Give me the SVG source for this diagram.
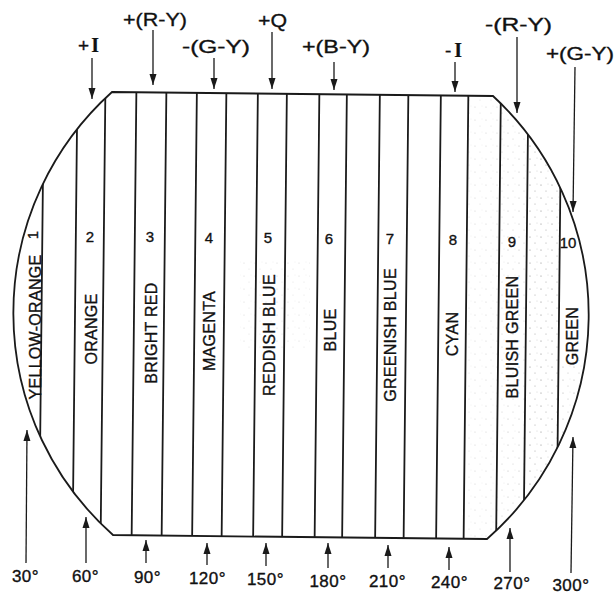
<svg xmlns="http://www.w3.org/2000/svg" width="615" height="594" viewBox="0 0 615 594">
<style>
.lbl{font-family:"Liberation Sans",Arial,sans-serif;fill:#111;stroke:#111;stroke-width:0.35;}
.top{font-size:19px;text-anchor:middle;}
.deg{font-size:17px;text-anchor:middle;letter-spacing:0.5px;}
.bar{font-size:16px;text-anchor:middle;letter-spacing:0.3px;}
.num{font-size:15px;text-anchor:middle;}
.ser{font-family:"Liberation Serif","Times New Roman",serif;font-size:20px;font-weight:bold;stroke-width:0.2;}
.bline{stroke:#1a1a1a;stroke-width:1.8;fill:none;}
.arr{stroke:#1a1a1a;stroke-width:1.3;fill:none;marker-end:url(#ah);}
</style>
<defs>
<marker id="ah" markerUnits="userSpaceOnUse" markerWidth="12" markerHeight="8" refX="11" refY="4" orient="auto">
<path d="M0,0.5 L11,4 L0,7.5 Z" fill="#1a1a1a"/>
</marker>
<clipPath id="shape">
<path d="M112 92 L493 96 A298 298 0 0 1 487 539 L113 535 A297 297 0 0 1 112 92 Z"/>
</clipPath>
<pattern id="dots" width="11" height="13" patternUnits="userSpaceOnUse">
<circle cx="2" cy="3" r="0.6" fill="#777"/>
<circle cx="7" cy="9" r="0.5" fill="#888"/>
<circle cx="9" cy="2" r="0.4" fill="#999"/>
</pattern>
</defs>
<rect width="615" height="594" fill="#fff"/>
<g id="stipple" clip-path="url(#shape)">
<rect x="467" y="92" width="31" height="450" fill="url(#dots)" opacity="0.35"/>
<rect x="499" y="92" width="27" height="450" fill="url(#dots)" opacity="0.5"/>
<rect x="527" y="92" width="32" height="450" fill="url(#dots)" opacity="0.9"/>
<rect x="560" y="360" width="40" height="190" fill="url(#dots)" opacity="0.6"/>
<rect x="240" y="260" width="70" height="90" fill="url(#dots)" opacity="0.3"/>
</g>
<g id="shape-outline">
<path class="bline" d="M112 92 L493 96 A298 298 0 0 1 487 539 L113 535 A297 297 0 0 1 112 92 Z" stroke-width="2"/>
</g>
<g id="dividers" clip-path="url(#shape)">
<path class="bline" d="M44 80 L39 550 M77.5 80 L72.5 550 M105.5 80 L100.5 550 M136.5 80 L131.5 550 M166.5 80 L161.5 550 M197 80 L192 550 M226.5 80 L221.5 550 M258 80 L253 550 M287 80 L282 550 M319.5 80 L314.5 550 M347 80 L342 550 M380 80 L375 550 M408.5 80 L403.5 550 M441 80 L436 550 M468.5 80 L463.5 550 M501 80 L496 550 M528.5 80 L523.5 550 M561.5 80 L556.5 550"/>
</g>
<g id="bar1"><text class="lbl bar" transform="translate(40.5,327) rotate(-90)">YELLOW-ORANGE</text><text class="lbl num" transform="translate(38,235) rotate(-90)">1</text></g>
<g id="bar2"><text class="lbl bar" transform="translate(96.5,329) rotate(-90)">ORANGE</text><text class="lbl num" x="90" y="242">2</text></g>
<g id="bar3"><text class="lbl bar" transform="translate(156.5,333) rotate(-90)">BRIGHT RED</text><text class="lbl num" x="150" y="242">3</text></g>
<g id="bar4"><text class="lbl bar" transform="translate(215,331) rotate(-90)">MAGENTA</text><text class="lbl num" x="209" y="243">4</text></g>
<g id="bar5"><text class="lbl bar" transform="translate(274.5,335) rotate(-90)">REDDISH BLUE</text><text class="lbl num" x="268" y="243">5</text></g>
<g id="bar6"><text class="lbl bar" transform="translate(335.5,330) rotate(-90)">BLUE</text><text class="lbl num" x="329" y="244">6</text></g>
<g id="bar7"><text class="lbl bar" transform="translate(396,335) rotate(-90)">GREENISH BLUE</text><text class="lbl num" x="390" y="244">7</text></g>
<g id="bar8"><text class="lbl bar" transform="translate(458,334) rotate(-90)">CYAN</text><text class="lbl num" x="453" y="245">8</text></g>
<g id="bar9"><text class="lbl bar" transform="translate(518,337) rotate(-90)">BLUISH GREEN</text><text class="lbl num" x="512" y="247">9</text></g>
<g id="bar10"><text class="lbl bar" transform="translate(578,336) rotate(-90)">GREEN</text><text class="lbl num" x="568" y="248">10</text></g>
<g id="top-labels">
<text class="lbl top" x="89.5" y="52" letter-spacing="2">+<tspan class="ser">I</tspan></text>
<text class="lbl top" x="155" y="26" textLength="64" lengthAdjust="spacingAndGlyphs">+(R-Y)</text>
<text class="lbl top" x="216" y="53" textLength="68" lengthAdjust="spacingAndGlyphs">-(G-Y)</text>
<text class="lbl top" x="272.5" y="27" textLength="29" lengthAdjust="spacingAndGlyphs">+Q</text>
<text class="lbl top" x="336" y="53" textLength="68" lengthAdjust="spacingAndGlyphs">+(B-Y)</text>
<text class="lbl top" x="455" y="57" letter-spacing="3">-<tspan class="ser">I</tspan></text>
<text class="lbl top" x="518.5" y="31" textLength="67" lengthAdjust="spacingAndGlyphs">-(R-Y)</text>
<text class="lbl top" x="580" y="60" textLength="68" lengthAdjust="spacingAndGlyphs">+(G-Y)</text>
</g>
<g id="bottom-labels">
<text class="lbl deg" x="25.5" y="582">30°</text>
<text class="lbl deg" x="85.5" y="582">60°</text>
<text class="lbl deg" x="147.5" y="583">90°</text>
<text class="lbl deg" x="207.5" y="584">120°</text>
<text class="lbl deg" x="265.5" y="585">150°</text>
<text class="lbl deg" x="328" y="587">180°</text>
<text class="lbl deg" x="387.5" y="587">210°</text>
<text class="lbl deg" x="449.5" y="588">240°</text>
<text class="lbl deg" x="512" y="589">270°</text>
<text class="lbl deg" x="571" y="591">300°</text>
</g>
<g id="connectors">
<line class="arr" x1="92" y1="58" x2="92" y2="99"/>
<line class="arr" x1="153" y1="30" x2="153" y2="85"/>
<line class="arr" x1="214" y1="58" x2="214" y2="89"/>
<line class="arr" x1="272" y1="32" x2="272" y2="89"/>
<line class="arr" x1="334" y1="62" x2="334" y2="90"/>
<line class="arr" x1="455" y1="62" x2="455" y2="92"/>
<line class="arr" x1="517" y1="37" x2="517" y2="113"/>
<line class="arr" x1="575" y1="67" x2="573" y2="212"/>
<line class="arr" x1="26" y1="563" x2="27" y2="430"/>
<line class="arr" x1="86" y1="563" x2="86" y2="517"/>
<line class="arr" x1="146" y1="563" x2="146" y2="540"/>
<line class="arr" x1="207" y1="565" x2="207" y2="543"/>
<line class="arr" x1="266" y1="566" x2="266" y2="543"/>
<line class="arr" x1="328" y1="568" x2="328" y2="543"/>
<line class="arr" x1="388" y1="568" x2="388" y2="545"/>
<line class="arr" x1="449" y1="570" x2="449" y2="547"/>
<line class="arr" x1="510" y1="572" x2="510" y2="528"/>
<line class="arr" x1="571" y1="573" x2="573" y2="437"/>
</g>
</svg>
